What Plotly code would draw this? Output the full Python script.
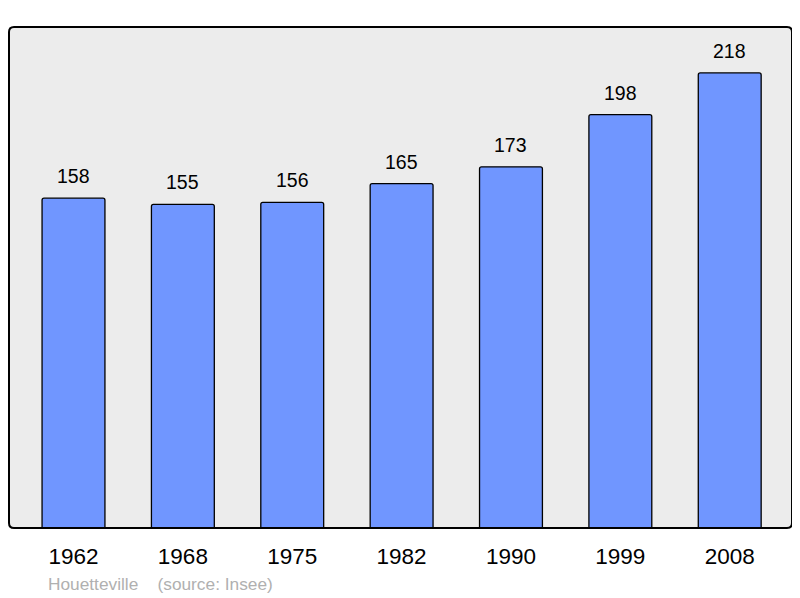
import plotly.graph_objects as go

years = ["1962", "1968", "1975", "1982", "1990", "1999", "2008"]
population = [158, 155, 156, 165, 173, 198, 218]
commune = "Houetteville"
source = "(source: Insee)"

# the page has an 8px body margin, so the figure is sized to fit 800x598 window
OFF = 8
W, H = 800 - OFF, 598 - OFF
ml, mr, mt, mb = 9 - OFF, 8, 27 - OFF, 70
pw, ph = W - ml - mr, H - mt - mb

fig = go.Figure()
fig.add_trace(go.Bar(
    x=list(range(len(years))), y=population,
    width=0.575,
    marker=dict(color="#7096ff", line=dict(color="#000000", width=1.3), cornerradius=2),
    hoverinfo="skip",
))

for i, v in enumerate(population):
    fig.add_annotation(x=i, y=v, text=str(v), showarrow=False, yanchor="bottom",
                       yshift=9, font=dict(family="Liberation Sans, Arial", size=19.5, color="#000"))

# rounded plot border
rx, ry = 5 / pw, 5 / ph
path = (f"M {rx},0 L {1-rx},0 Q 1,0 1,{ry} L 1,{1-ry} Q 1,1 {1-rx},1 "
        f"L {rx},1 Q 0,1 0,{1-ry} L 0,{ry} Q 0,0 {rx},0 Z")
fig.add_shape(type="path", path=path, xref="paper", yref="paper",
              line=dict(color="#000", width=2), layer="above")

foot_x, foot_y = 46 - OFF, 584 - OFF
fig.add_annotation(x=(foot_x - ml) / pw, y=(H - foot_y - mb) / ph, xref="paper", yref="paper",
                   text=f"{commune}&nbsp;&nbsp;&nbsp;&nbsp;{source}",
                   showarrow=False, xanchor="left", yanchor="middle",
                   font=dict(family="Liberation Sans, Arial", size=17.3, color="#b0b0b0"))

fig.update_layout(
    width=W, height=H,
    margin=dict(l=ml, r=mr, t=mt, b=mb, pad=0),
    paper_bgcolor="#ffffff", plot_bgcolor="#ececec",
    showlegend=False,
    font=dict(family="Liberation Sans, Arial", color="#000"),
)
x0 = -(73.5 - 9) / 109.37
fig.update_xaxes(range=[x0, x0 + pw / 109.37], tickmode="array",
                 tickvals=list(range(len(years))), ticktext=years,
                 showgrid=False, zeroline=False, showline=False,
                 tickfont=dict(size=22.5, color="#000"), ticks="", ticklabelstandoff=12)
fig.update_yaxes(range=[0, 240], showgrid=False, zeroline=False, showticklabels=False, showline=False)

fig.write_html("out.html")
